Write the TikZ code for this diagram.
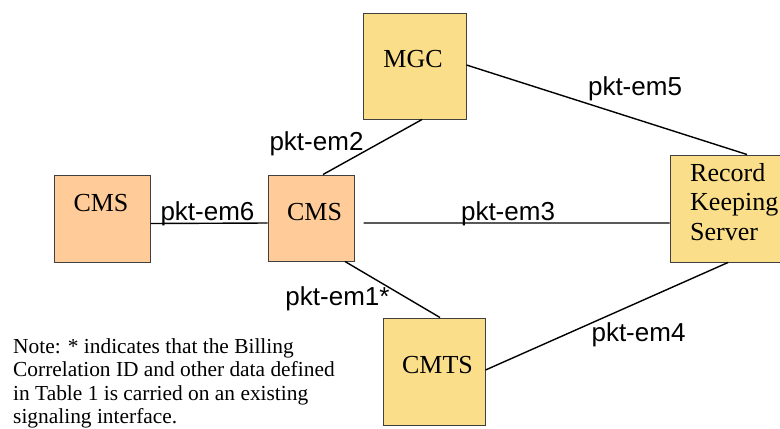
\documentclass[tikz,border=0pt]{standalone}
\usepackage{fontspec}
\setmainfont{Liberation Serif}
\newfontfamily\labelfont{Liberation Sans}
\definecolor{boxyellow}{HTML}{FADE8A}
\definecolor{boxorange}{HTML}{FFCC99}

\begin{document}
\begin{tikzpicture}[x=1bp,y=-1bp,
  box/.style={draw=black!75,line width=1bp,inner sep=0pt},
  ybox/.style={box,fill=boxyellow},
  obox/.style={box,fill=boxorange},
  boxtext/.style={font=\fontsize{26bp}{29.5bp}\selectfont,inner sep=0pt,anchor=base},
  link/.style={line width=1.4bp},
  lab/.style={font=\labelfont\fontsize{26bp}{30bp}\selectfont,inner sep=0pt,anchor=base}]
\useasboundingbox (0,0) rectangle (780,428);
% boxes
\node[ybox,minimum width=103bp,minimum height=106bp] (mgc) at (414.5,66) {};
\node[obox,minimum width=96bp,minimum height=87bp] (cmsl) at (102,218.5) {};
\node[obox,minimum width=86bp,minimum height=86bp] (cms) at (311,218) {};
\node[ybox,minimum width=120bp,minimum height=107bp] (rks) at (730,208.5) {};
\node[ybox,minimum width=102bp,minimum height=107bp] (cmts) at (434,371.5) {};
% box texts
\node[boxtext] (mgc-t) at (413,67) {MGC};
\node[boxtext] (cmsl-t) at (101,211) {CMS};
\node[boxtext] (cms-t) at (314.5,220) {CMS};
\node[boxtext] (cmts-t) at (437.5,373) {CMTS};
\node[boxtext,anchor=north west,align=left] (rks-t) at (690,163) {Record\\Keeping\\Server};
% links
\draw[link] ([yshift=-5bp]cmsl.east) -- ([yshift=-5bp]cms.west);
\draw[link] ([xshift=9bp,yshift=-5bp]cms.east) -- ([yshift=-14.5bp]rks.west);
\draw[link] ([xshift=7.5bp]mgc.south) -- ([xshift=12bp]cms.north);
\draw[link] ([yshift=1bp]mgc.east) -- ([xshift=17bp]rks.north);
\draw[link] ([xshift=34bp]cms.south) -- ([xshift=6bp]cmts.north);
\draw[link] ([xshift=-2bp]rks.south) -- ([yshift=1.5bp]cmts.east);
% labels
\node[lab] (em5) at (635,95) {pkt-em5};
\node[lab] (em2) at (316.5,150) {pkt-em2};
\node[lab] (em6) at (207.5,220) {pkt-em6};
\node[lab] (em3) at (508,220) {pkt-em3};
\node[lab] (em1) at (337.5,305) {pkt-em1*};
\node[lab] (em4) at (638.5,341) {pkt-em4};
% note
\node[anchor=north west,align=left,inner sep=0pt,
  font=\fontsize{21.4bp}{23.3bp}\selectfont] (note) at (13,338.5)
  {Note: * indicates that the Billing\\Correlation ID and other data defined\\in Table 1 is carried on an existing\\signaling interface.};
\end{tikzpicture}
\end{document}
